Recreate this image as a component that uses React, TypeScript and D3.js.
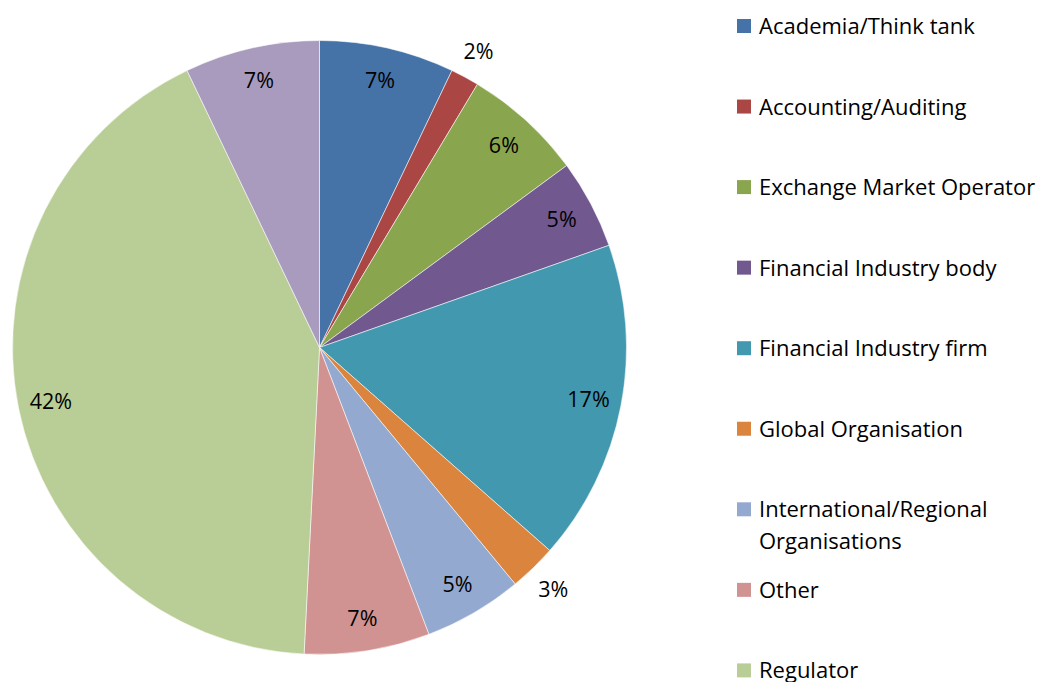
import React from "react";
import * as d3 from "d3";

// -- DATA --
const categories = [
  "Academia/Think tank",
  "Accounting/Auditing",
  "Exchange Market Operator",
  "Financial Industry body",
  "Financial Industry firm",
  "Global Organisation",
  "International/Regional\nOrganisations",
  "Other",
  "Regulator",
  "Standard Setter",
];
const shares = [7.1, 1.5, 6.3, 4.7, 16.9, 2.5, 5.2, 6.6, 42.1, 7.1];
const colors = [
  "#4572A7",
  "#AA4643",
  "#89A54E",
  "#71588F",
  "#4198AF",
  "#DB843D",
  "#93A9CF",
  "#D19392",
  "#B9CD96",
  "#A99BBD",
];

const W = 1052;
const H = 682;
const FONT = "'Open Sans', 'Noto Sans', sans-serif";

type Slice = { name: string; value: number; color: string };

const App = () => {
  const svgRef = React.useRef<SVGSVGElement>(null);

  React.useEffect(() => {
    const data: Slice[] = categories.map((name, i) => ({
      name,
      value: shares[i],
      color: colors[i],
    }));
    const svg = d3.select(svgRef.current);
    svg.selectAll("*").remove();

    // pie
    const cx = 319.5;
    const cy = 347.5;
    const radius = 307;
    const pie = d3
      .pie<Slice>()
      .sort(null)
      .value((d) => d.value);
    const arcs = pie(data);
    const arc = d3.arc<d3.PieArcDatum<Slice>>().innerRadius(0).outerRadius(radius);

    const g = svg.append("g").attr("transform", `translate(${cx},${cy})`);
    g.selectAll("path")
      .data(arcs)
      .enter()
      .append("path")
      .attr("d", arc)
      .style("fill", (d) => d.data.color)
      .style("stroke", "rgba(255,255,255,0.55)")
      .style("stroke-width", 1);

    // labels: small slices go outside
    const inner = d3.arc<d3.PieArcDatum<Slice>>().innerRadius(274).outerRadius(274);
    const outer = d3.arc<d3.PieArcDatum<Slice>>().innerRadius(336).outerRadius(336);
    g.selectAll("text.pct")
      .data(arcs)
      .enter()
      .append("text")
      .attr("class", "pct")
      .attr("transform", (d) => {
        const c = (d.data.value < 4 ? outer : inner).centroid(d);
        return `translate(${c[0]},${c[1]})`;
      })
      .attr("text-anchor", "middle")
      .attr("dy", "0.36em")
      .style("font-family", FONT)
      .style("font-size", "21.5px")
      .style("fill", "#000")
      .text((d) => `${Math.round(d.data.value)}%`);

    // legend
    const step = 80.55;
    const legend = svg
      .selectAll("g.leg")
      .data(data)
      .enter()
      .append("g")
      .attr("class", "leg")
      .attr("transform", (d, i) => `translate(737,${26 + i * step})`);
    legend
      .append("rect")
      .attr("x", 0)
      .attr("y", -7)
      .attr("width", 14)
      .attr("height", 14)
      .style("fill", (d) => d.color);
    const txt = legend
      .append("text")
      .attr("x", 22)
      .style("font-family", FONT)
      .style("font-size", "22px")
      .style("fill", "#000");
    txt
      .selectAll("tspan")
      .data((d) => d.name.split("\n"))
      .enter()
      .append("tspan")
      .attr("x", 22)
      .attr("y", (d, i) => 8 + i * 32)
      .text((d) => d);
  }, []);

  return (
    <svg
      ref={svgRef}
      width={W}
      height={H}
      style={{ position: "absolute", left: 0, top: 0, background: "#fff" }}
    />
  );
};

export default App;
